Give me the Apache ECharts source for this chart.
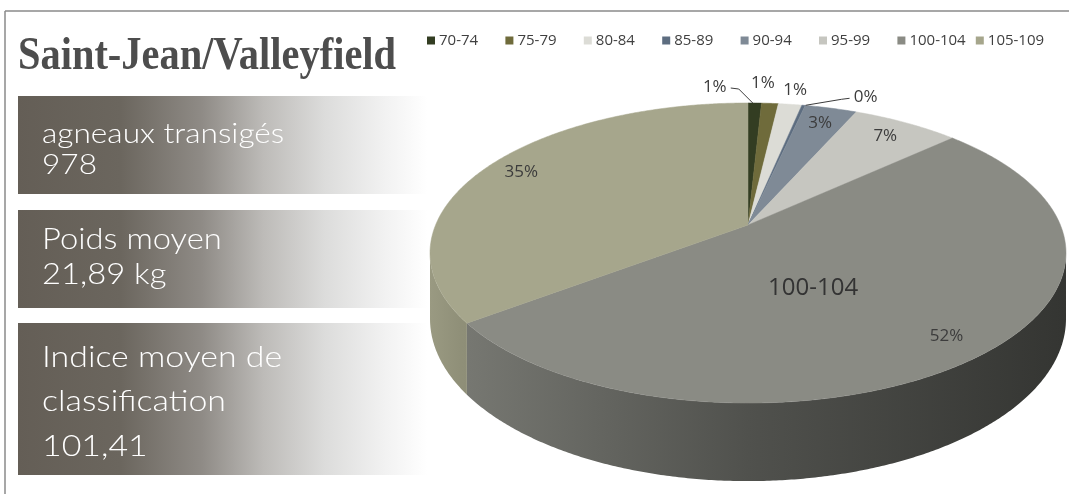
<!DOCTYPE html>
<html>
<head>
<meta charset="utf-8">
<script src="https://cdn.jsdelivr.net/npm/echarts@6/dist/echarts.min.js"></script>
<style>
html,body{margin:0;padding:0;background:#fff;overflow:hidden;width:1069px;height:494px;}
#chart{width:1120px;height:494px;}
</style>
</head>
<body>
<div id="chart"></div>
<script>
// ---- data ----
const categories = ['70-74','75-79','80-84','85-89','90-94','95-99','100-104','105-109'];
const lambCounts = [8, 10, 14, 2, 31, 64, 504, 345];
const titleText = 'Saint-Jean/Valleyfield';
const statLabels = [['agneaux transigés','978'], ['Poids moyen','21,89 kg'], ['Indice moyen de','classification','101,41']];
const categoryLabelShown = '100-104';

// ---- styles / layout ----
const sliceColors = ['#333d22','#6f6b3b','#dcdcd6','#5d6d80','#7f8a96','#c6c6c0','#8a8b84','#a6a68c'];
const P = {cx:748, cy:225, a:312.4, b:144.8, k:0.1867, d:63.5};
const labelNudge = {'70-74':[-40,-16],'75-79':[-7,-20],'80-84':[5,-14],'85-89':[62,-8]};
const catLabelNudge = [-31, 10];
const legendLeft = 427, legendSlot = 78.4;

const total = lambCounts.reduce((s,v)=>s+v,0);
const TWO_PI = Math.PI*2;

function proj(t, f, dz){
  const u = f*Math.sin(t), v = -f*Math.cos(t);
  const w = 1 - P.k*v;
  return [P.cx + P.a*u/w, P.cy + P.b*v/w + dz*P.d/w];
}
function shade(hex, f){
  const n = parseInt(hex.slice(1),16);
  const r = Math.round(((n>>16)&255)*f), g = Math.round(((n>>8)&255)*f), b = Math.round((n&255)*f);
  return 'rgb('+r+','+g+','+b+')';
}
function arc(t0,t1,f,dz){
  const n = Math.max(2, Math.ceil((t1-t0)/0.008));
  const pts=[];
  for(let i=0;i<=n;i++){ pts.push(proj(t0+(t1-t0)*i/n, f, dz)); }
  return pts;
}

const labelFont = '17px "Open Sans"';
function makeRender(idx){
  return function(params, api){
    const val = api.value(0);
    let cum = 0;
    for(let i=0;i<idx;i++) cum += lambCounts[i];
    const t0 = TWO_PI*cum/total, t1 = TWO_PI*(cum+val)/total;
    const base = sliceColors[idx];
    const children = [];
    const fs = Math.acos(-P.k), fe = TWO_PI - Math.acos(-P.k);
    const s0 = Math.max(t0, fs), s1 = Math.min(t1, fe);
    if (s1 > s0){
      const top = arc(s0,s1,1,0), bot = arc(s0,s1,1,1).reverse();
      const x0 = P.cx - P.a*1.02, x1 = P.cx + P.a*1.02;
      children.push({type:'polygon', z2:1, shape:{points: top.concat(bot)},
        style:{fill:{type:'linear', x:x0, y:0, x2:x1, y2:0, global:true, colorStops:[
          {offset:0,color:shade(base,0.93)},{offset:0.05,color:shade(base,0.86)},
          {offset:0.5,color:shade(base,0.58)},{offset:1,color:shade(base,0.38)}]}, stroke:null}});
    }
    if (val > 0){
      const pts = [proj(0,0,0)].concat(arc(t0,t1,1,0));
      children.push({type:'polygon', z2:2, shape:{points:pts}, style:{fill:base, stroke:base, lineWidth:0.5}});
    }
    const pct = Math.round(100*val/total) + '%';
    const tm = (t0+t1)/2;
    const share = val/total;
    const name = categories[idx];
    if (share < 0.02){
      const anc = proj(tm,1,0);
      const nd = labelNudge[name] || [0,-18];
      const lx = anc[0]+nd[0], ly = anc[1]+nd[1];
      children.push({type:'text', z2:5, x:lx, y:ly, style:{text:pct, fill:'#3c3c3c', font:labelFont, align:'center', verticalAlign:'middle'}});
      if (Math.hypot(nd[0],nd[1]) > 30){
        const side = nd[0] < 0 ? 1 : -1;
        const ex = lx + side*16;
        children.push({type:'polyline', z2:5, shape:{points:[[ex,ly+1],[ex+side*8,ly+2],[anc[0]-side*2,anc[1]]]}, style:{stroke:'#3c3c3c', lineWidth:1, fill:null}});
      }
    } else {
      const f = share > 0.3 ? 0.87 : 0.85;
      const p = proj(tm,f,0);
      children.push({type:'text', z2:5, x:p[0], y:p[1], style:{text:pct, fill:'#3c3c3c', font:labelFont, align:'center', verticalAlign:'middle'}});
    }
    if (name === categoryLabelShown){
      const p = proj(tm,0.45,0);
      children.push({type:'text', z2:5, x:p[0]+catLabelNudge[0], y:p[1]+catLabelNudge[1], style:{text:name, fill:'#333', font:'24px "Open Sans"', align:'center', verticalAlign:'middle'}});
    }
    return {type:'group', children};
  };
}

const series = categories.map((c,i)=>({
  type:'custom', name:c, coordinateSystem:'none', silent:true, animation:false,
  itemStyle:{color:sliceColors[i]},
  renderItem: makeRender(i),
  data:[lambCounts[i]]
}));

const legends = categories.map((c,i)=>({
  left: legendLeft + i*legendSlot, top:33, icon:'rect', itemWidth:8, itemHeight:8, itemGap:5,
  selectedMode:false, padding:0,
  textStyle:{fontFamily:'Open Sans', fontSize:15, color:'#404040', padding:[0,0,0,-1]},
  data:[c]
}));

const boxFill = {type:'linear', x:0, y:0, x2:1, y2:0, colorStops:[
  {offset:0,color:'#645e56'},{offset:0.25,color:'#6b665e'},{offset:0.45,color:'#8f8b86'},
  {offset:0.6,color:'#bdbbb8'},{offset:0.75,color:'#dcdcdb'},{offset:0.9,color:'#f2f2f2'},{offset:1,color:'#ffffff'}]};
const boxes = [{y:96,h:98,size:28,base:[148,179]},{y:210,h:98,size:29,base:[254,289]},{y:323,h:152,size:30,base:[372,416,461]}];
const graphics = [
  {type:'line', shape:{x1:5,y1:11,x2:1120,y2:11}, style:{stroke:'#8a8a8a', lineWidth:1.5}},
  {type:'line', shape:{x1:5,y1:11,x2:5,y2:494}, style:{stroke:'#8a8a8a', lineWidth:1.5}},
  {type:'text', x:18, y:57, scaleX:0.86, style:{text:titleText, font:'bold 47px "Liberation Serif"', fill:'#4d4d4d', verticalAlign:'middle'}}
];
boxes.forEach((b,i)=>{
  graphics.push({type:'rect', shape:{x:18,y:b.y,width:409,height:b.h}, style:{fill:boxFill}});
  statLabels[i].forEach((t,j)=>{
    graphics.push({type:'text', x:42, y:b.base[j], scaleX:1.13, style:{text:t, font:'300 '+b.size+'px Lato', fill:'#ffffff', verticalAlign:'bottom'}});
  });
});

const chart = echarts.init(document.getElementById('chart'), null, {renderer:'canvas'});
chart.setOption({
  animation:false,
  legend:legends,
  graphic:graphics,
  series:series
});
</script>
</body>
</html>
